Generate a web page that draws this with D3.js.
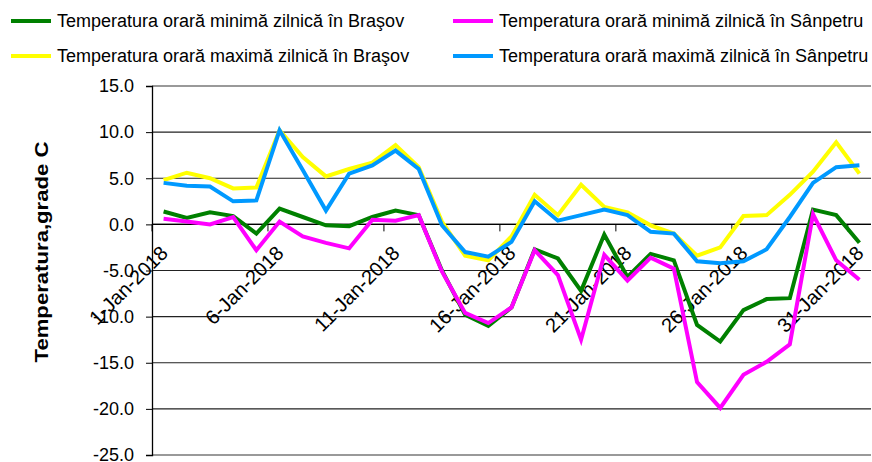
<!DOCTYPE html>
<html>
<head>
<meta charset="utf-8">
<script src="https://cdn.jsdelivr.net/npm/d3@7"></script>
<style>
  body { margin: 0; background: #fff; }
  text { font-family: "Liberation Sans", Arial, sans-serif; }
</style>
</head>
<body>
<div id="plot"></div>
<script>
const W = 872, H = 462;
const margin = { top: 86, right: 1, bottom: 7, left: 152 };

const dates = ["1-Jan-2018","2-Jan-2018","3-Jan-2018","4-Jan-2018","5-Jan-2018","6-Jan-2018","7-Jan-2018","8-Jan-2018",
  "9-Jan-2018","10-Jan-2018","11-Jan-2018","12-Jan-2018","13-Jan-2018","14-Jan-2018","15-Jan-2018","16-Jan-2018",
  "17-Jan-2018","18-Jan-2018","19-Jan-2018","20-Jan-2018","21-Jan-2018","22-Jan-2018","23-Jan-2018","24-Jan-2018",
  "25-Jan-2018","26-Jan-2018","27-Jan-2018","28-Jan-2018","29-Jan-2018","30-Jan-2018","31-Jan-2018"];
const tickDates = ["1-Jan-2018","6-Jan-2018","11-Jan-2018","16-Jan-2018","21-Jan-2018","26-Jan-2018","31-Jan-2018"];
const yTicks = [15, 10, 5, 0, -5, -10, -15, -20, -25];

const minBrasov = [1.4,0.7,1.3,0.9,-1.0,1.7,0.8,-0.1,-0.2,0.8,1.5,1.0,-5.0,-9.8,-11.0,-9.0,-2.7,-3.7,-7.2,-1.1,
  -5.7,-3.2,-3.9,-10.9,-12.7,-9.3,-8.1,-8.0,1.6,1.0,-2.0];
const minSanpetru = [0.6,0.3,0.0,0.8,-2.8,0.3,-1.3,-2.0,-2.6,0.5,0.4,1.0,-5.1,-9.6,-10.7,-9.0,-2.8,-5.5,-12.5,-3.3,
  -6.1,-3.6,-4.8,-17.1,-19.9,-16.3,-14.9,-13.0,1.1,-3.9,-6.0];
const maxBrasov = [4.8,5.6,5.0,3.9,4.0,10.2,7.3,5.2,6.0,6.7,8.6,6.2,0.3,-3.4,-3.9,-1.3,3.2,1.0,4.3,1.9,
  1.3,-0.1,-1.0,-3.4,-2.5,0.9,1.0,3.2,5.7,8.9,5.5];
const maxSanpetru = [4.5,4.2,4.1,2.5,2.6,10.2,5.9,1.5,5.5,6.4,8.0,6.0,-0.1,-3.0,-3.5,-1.9,2.5,0.4,1.0,1.6,
  1.0,-0.8,-1.0,-4.0,-4.2,-4.0,-2.7,0.8,4.5,6.2,6.4];

const seriesNames = [
  "Temperatura orară minimă zilnică în Braşov",
  "Temperatura orară minimă zilnică în Sânpetru",
  "Temperatura orară maximă zilnică în Braşov",
  "Temperatura orară maximă zilnică în Sânpetru"
];
const seriesColors = ["#008000", "#ff00ff", "#ffff00", "#0099ff"];
const seriesValues = [minBrasov, minSanpetru, maxBrasov, maxSanpetru];

const svg = d3.select("#plot").append("svg")
  .attr("width", W).attr("height", H);

const x = d3.scaleBand()
  .domain(dates)
  .range([margin.left, W - margin.right]);

const y = d3.scaleLinear()
  .domain([-25, 15])
  .range([H - margin.bottom, margin.top]);

// horizontal grid
svg.append("g")
  .selectAll("line")
  .data(yTicks)
  .join("line")
  .attr("x1", margin.left)
  .attr("x2", W - margin.right)
  .attr("y1", d => y(d))
  .attr("y2", d => y(d))
  .attr("stroke", d => (d === 15 || d === -25) ? "#999" : "#222")
  .attr("stroke-width", d => (d === 15 || d === -25) ? 2 : 1.2);

// y axis
const yAxis = svg.append("g")
  .attr("transform", `translate(${margin.left},0)`)
  .call(d3.axisLeft(y).tickValues(yTicks).tickSize(6).tickPadding(12)
    .tickFormat(d => d.toFixed(1)));
yAxis.select(".domain").attr("stroke", "#000").attr("stroke-width", 1.3);
yAxis.selectAll(".tick line").attr("stroke", "#000");
yAxis.selectAll("text")
  .attr("font-size", 18)
  .attr("fill", "#000")
  .style("font-family", "'Liberation Sans', Arial, sans-serif");

// x axis on the zero line
const xAxis = svg.append("g")
  .attr("transform", `translate(0,${y(0)})`);
xAxis.append("line")
  .attr("x1", margin.left).attr("x2", W - margin.right)
  .attr("stroke", "#000").attr("stroke-width", 1.3);
xAxis.selectAll(".xtick")
  .data(tickDates)
  .join("line")
  .attr("class", "xtick")
  .attr("x1", d => x(d)).attr("x2", d => x(d))
  .attr("y1", 0).attr("y2", 7)
  .attr("stroke", "#000");
xAxis.selectAll(".xlabel")
  .data(tickDates)
  .join("text")
  .attr("class", "xlabel")
  .attr("transform", d => `translate(${x(d) + 17},${30}) rotate(-45)`)
  .attr("text-anchor", "end")
  .attr("font-size", 20)
  .attr("fill", "#000")
  .text(d => d);

// lines
const line = d3.line()
  .x((d, i) => x(dates[i]) + x.bandwidth() / 2)
  .y(d => y(d));

seriesValues.forEach((vals, k) => {
  svg.append("path")
    .datum(vals)
    .attr("fill", "none")
    .attr("stroke", seriesColors[k])
    .attr("stroke-width", 4)
    .attr("stroke-linejoin", "miter")
    .attr("d", line);
});

// y axis title
svg.append("text")
  .attr("transform", `translate(48,252) rotate(-90)`)
  .attr("text-anchor", "middle")
  .attr("font-size", 19)
  .attr("font-weight", "bold")
  .attr("textLength", 221)
  .attr("lengthAdjust", "spacingAndGlyphs")
  .text("Temperatura,grade C");

// legend
const legendPos = [[11, 21], [453, 21], [11, 56], [453, 56]];
seriesNames.forEach((name, k) => {
  const [lx, ly] = legendPos[k];
  svg.append("line")
    .attr("x1", lx).attr("x2", lx + 40)
    .attr("y1", ly).attr("y2", ly)
    .attr("stroke", seriesColors[k])
    .attr("stroke-width", 4);
  svg.append("text")
    .attr("x", lx + 46)
    .attr("y", ly + 6)
    .attr("font-size", 18)
    .text(name);
});
</script>
</body>
</html>
